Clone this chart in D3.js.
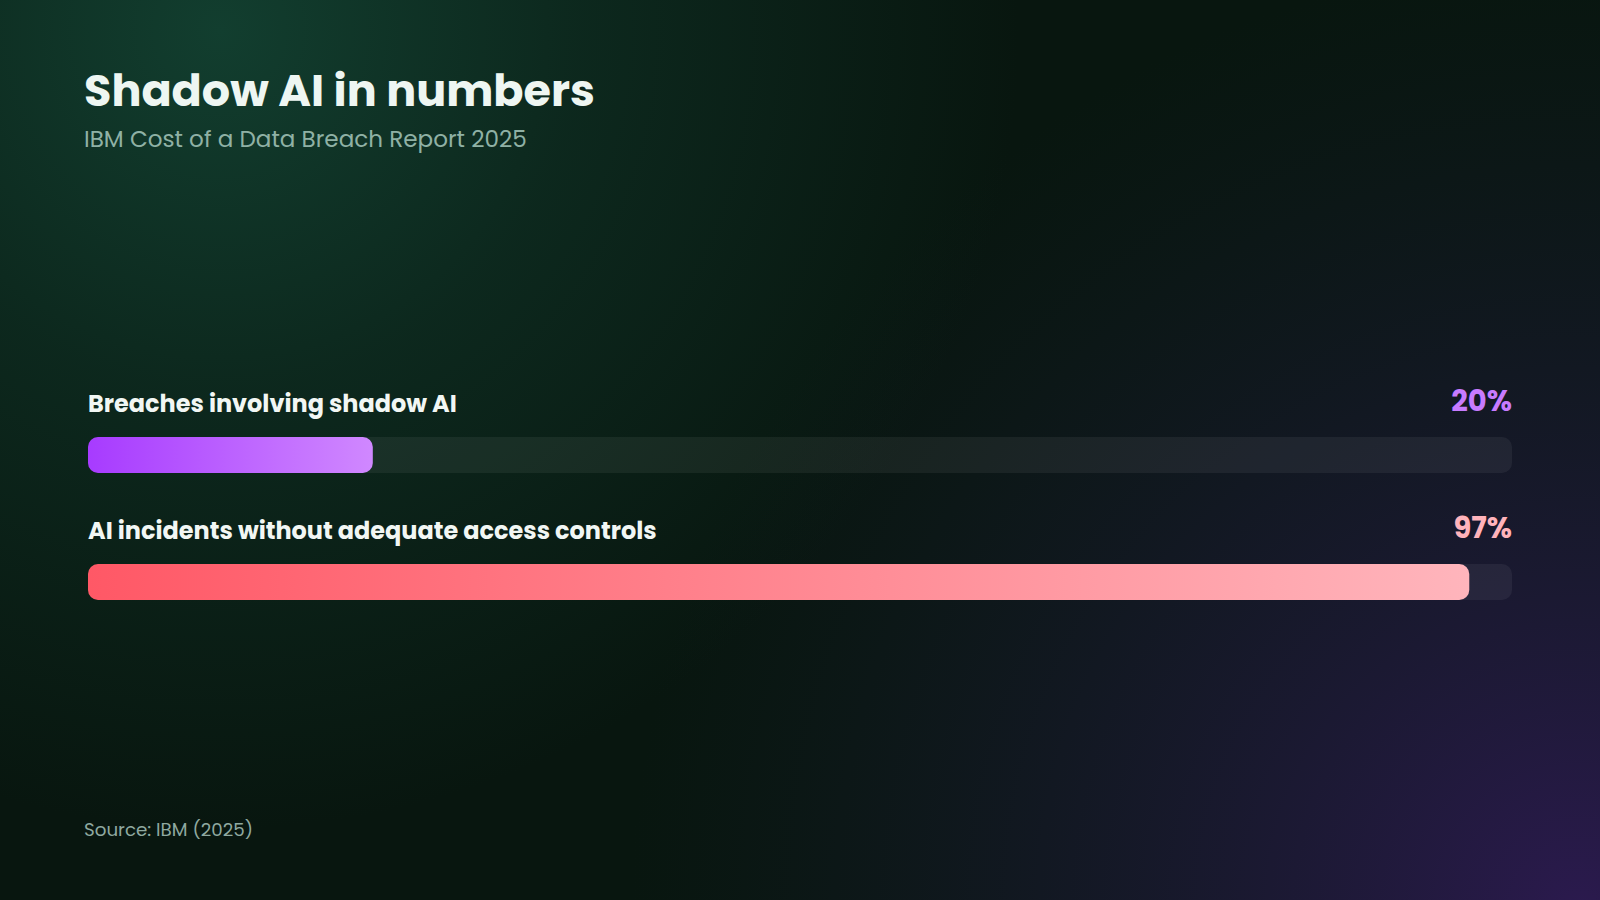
<!DOCTYPE html>
<html><head><meta charset="utf-8">
<script src="https://cdn.jsdelivr.net/npm/d3@7"></script>
<style>html,body{margin:0;padding:0;background:#08160f;}svg{display:block;}</style>
</head><body>
<script>
const categories = ["Breaches involving shadow AI", "AI incidents without adequate access controls"];
const values = [20, 97];
const valueLabels = ["20%", "97%"];
const gradStops = [["#a73bff", "#d088ff"], ["#ff5866", "#ffb5bc"]];
const valueColors = ["#c77bff", "#ffb3bb"];
const title = "Shadow AI in numbers";
const subtitle = "IBM Cost of a Data Breach Report 2025";
const source = "Source: IBM (2025)";

const W = 1600, H = 900;
const font = "Poppins, Inter, 'Open Sans', sans-serif";
const svg = d3.select("body").append("svg").attr("width", W).attr("height", H);
const defs = svg.append("defs");

// background
svg.append("rect").attr("width",W).attr("height",H).attr("fill","#08160f");

const g1 = defs.append("radialGradient").attr("id","glowG").attr("gradientUnits","userSpaceOnUse")
  .attr("cx",220).attr("cy",30).attr("r",800);
g1.append("stop").attr("offset","0%").attr("stop-color","#123e2f").attr("stop-opacity",1);
g1.append("stop").attr("offset","45%").attr("stop-color","#123e2f").attr("stop-opacity",0.45);
g1.append("stop").attr("offset","100%").attr("stop-color","#123e2f").attr("stop-opacity",0);
svg.append("rect").attr("width",W).attr("height",H).attr("fill","url(#glowG)");

const g2 = defs.append("radialGradient").attr("id","glowP").attr("gradientUnits","userSpaceOnUse")
  .attr("cx",1580).attr("cy",910).attr("r",950);
g2.append("stop").attr("offset","0%").attr("stop-color","#2b1a4e").attr("stop-opacity",1);
g2.append("stop").attr("offset","40%").attr("stop-color","#1f1a3a").attr("stop-opacity",0.7);
g2.append("stop").attr("offset","100%").attr("stop-color","#141a28").attr("stop-opacity",0);
svg.append("rect").attr("width",W).attr("height",H).attr("fill","url(#glowP)");

// fit text to a target width by adjusting font-size
function fitSize(sel, target){
  const n = sel.node();
  const w = n.getComputedTextLength();
  if (w > 0) {
    const fs = parseFloat(sel.style("font-size"));
    sel.style("font-size", (fs * target / w) + "px");
  }
}

svg.append("text").attr("x",84).attr("y",106).attr("fill","#eef6f2")
  .style("font-family",font).style("font-weight",700).style("font-size","50px")
  .text(title).call(fitSize,511);
svg.append("text").attr("x",84).attr("y",147).attr("fill","#8fb1a5")
  .style("font-family",font).style("font-weight",400).style("font-size","23px")
  .text(subtitle).call(fitSize,443);
svg.append("text").attr("x",84).attr("y",836).attr("fill","#8fa9a0")
  .style("font-family",font).style("font-weight",400).style("font-size","18px")
  .text(source).call(fitSize,169);

// bars
const x = d3.scaleLinear().domain([0,100]).range([88,1512]);
const rows = categories.map((c,i)=>({c, v:values[i], lab:valueLabels[i], i}));
const y = d3.scaleBand().domain(categories).range([374, 628]).paddingInner(0);
const labelW = [369, 569];
const barH = 36;

rows.forEach(d=>{
  const gr = defs.append("linearGradient").attr("id","bar"+d.i).attr("gradientUnits","userSpaceOnUse")
    .attr("x1",x(0)).attr("x2",x(d.v)).attr("y1",0).attr("y2",0);
  gr.append("stop").attr("offset","0%").attr("stop-color",gradStops[d.i][0]);
  gr.append("stop").attr("offset","100%").attr("stop-color",gradStops[d.i][1]);
});

const row = svg.selectAll("g.row").data(rows).join("g").attr("class","row")
  .attr("transform", d=>`translate(0,${y(d.c)})`);

row.append("text").attr("x",88).attr("y",38).attr("fill","#f2f7f4")
  .style("font-family",font).style("font-weight",700).style("font-size","24px")
  .text(d=>d.c).each(function(d){ fitSize(d3.select(this), labelW[d.i]); });

row.append("text").attr("x",x(100)).attr("y",37).attr("text-anchor","end")
  .attr("fill",d=>valueColors[d.i])
  .style("font-family",font).style("font-weight",700).style("font-size","29px")
  .text(d=>d.lab);

row.append("rect").attr("x",x(0)).attr("y",63).attr("width",x(100)-x(0)).attr("height",barH)
  .attr("rx",10).attr("fill","#ffffff").attr("fill-opacity",0.06);

row.append("rect").attr("x",x(0)).attr("y",63).attr("width",d=>x(d.v)-x(0)).attr("height",barH)
  .attr("rx",10).attr("fill",d=>`url(#bar${d.i})`);
</script>
</body></html>
